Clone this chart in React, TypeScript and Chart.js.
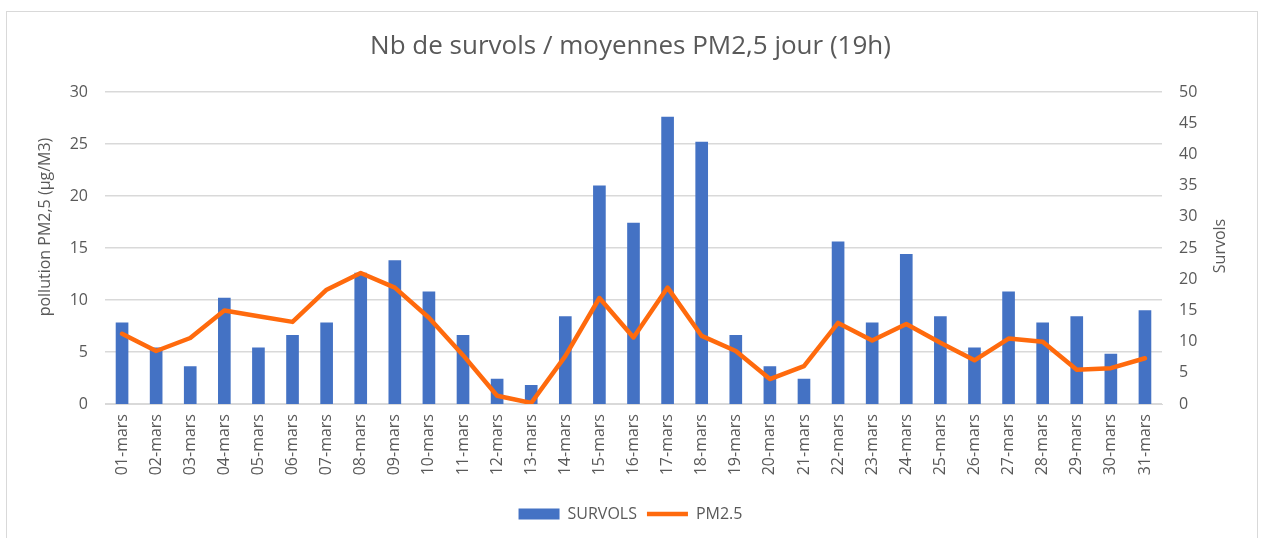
import React, { useEffect, useRef } from "react";
import { Chart, registerables } from "chart.js";

Chart.register(...registerables);

const categories: string[] = [
  "01-mars", "02-mars", "03-mars", "04-mars", "05-mars", "06-mars", "07-mars", "08-mars",
  "09-mars", "10-mars", "11-mars", "12-mars", "13-mars", "14-mars", "15-mars", "16-mars",
  "17-mars", "18-mars", "19-mars", "20-mars", "21-mars", "22-mars", "23-mars", "24-mars",
  "25-mars", "26-mars", "27-mars", "28-mars", "29-mars", "30-mars", "31-mars",
];

const survols: number[] = [
  13, 9, 6, 17, 9, 11, 13, 21, 23, 18, 11, 4, 3, 14, 35, 29,
  46, 42, 11, 6, 4, 26, 13, 24, 14, 9, 18, 13, 14, 8, 15,
];

const pm25: number[] = [
  6.75, 5.1, 6.35, 9.0, 8.45, 7.9, 11.0, 12.6, 11.2, 8.3, 4.7, 0.8, 0.1, 4.6, 10.2, 6.4,
  11.2, 6.55, 5.1, 2.4, 3.65, 7.8, 6.1, 7.7, 5.9, 4.2, 6.3, 6.0, 3.3, 3.45, 4.4,
];

const leftTicks = { min: 0, max: 30, step: 5 };
const rightTicks = { min: 0, max: 50, step: 5 };

const titleText = "Nb de survols / moyennes PM2,5 jour (19h)";
const leftAxisTitle = "pollution PM2,5 (µg/M3)";
const rightAxisTitle = "Survols";

const TEXT = "#595959";
const FONT = "'Open Sans', 'Noto Sans', sans-serif";

const axisTitles = {
  id: "axisTitles",
  afterDraw(chart: any) {
    const ctx = chart.ctx;
    ctx.save();
    ctx.fillStyle = TEXT;
    ctx.font = `16px ${FONT}`;
    ctx.textAlign = "center";
    ctx.textBaseline = "middle";
    ctx.translate(45, 227);
    ctx.rotate(-Math.PI / 2);
    ctx.fillText(leftAxisTitle, 0, 0);
    ctx.restore();
    ctx.save();
    ctx.fillStyle = TEXT;
    ctx.font = `16px ${FONT}`;
    ctx.textAlign = "center";
    ctx.textBaseline = "middle";
    ctx.translate(1220, 246);
    ctx.rotate(-Math.PI / 2);
    ctx.fillText(rightAxisTitle, 0, 0);
    ctx.restore();
  },
};

export default function App() {
  const ref = useRef<HTMLCanvasElement | null>(null);

  useEffect(() => {
    if (!ref.current) return;
    const chart = new Chart(ref.current, {
      type: "bar",
      data: {
        labels: categories,
        datasets: [
          {
            type: "line",
            label: "PM2.5",
            data: pm25,
            yAxisID: "yLeft",
            borderColor: "#FF6A0D",
            backgroundColor: "#FF6A0D",
            borderWidth: 4.5,
            pointRadius: 0,
            pointStyle: "line",
            borderCapStyle: "round",
            borderJoinStyle: "round",
            tension: 0,
          } as any,
          {
            type: "bar",
            label: "SURVOLS",
            data: survols,
            yAxisID: "yRight",
            backgroundColor: "#4472C4",
            borderWidth: 0,
            barThickness: 12,
            pointStyle: "rect",
          } as any,
        ],
      },
      plugins: [axisTitles],
      options: {
        animation: false,
        responsive: false,
        maintainAspectRatio: false,
        devicePixelRatio: 1,
        layout: { padding: { left: 0, right: 0, top: 0, bottom: 6 } },
        plugins: {
          title: {
            display: true,
            text: titleText,
            color: TEXT,
            font: { family: FONT, size: 26, weight: "normal" },
            padding: { top: 31, bottom: 30 },
          },
          legend: {
            position: "bottom",
            labels: {
              usePointStyle: true,
              pointStyleWidth: 41,
              boxHeight: 11,
              boxWidth: 41,
              color: TEXT,
              font: { family: FONT, size: 16 },
              padding: 10,
              sort: (a: any, b: any) => b.datasetIndex - a.datasetIndex,
            },
          },
          tooltip: { enabled: false },
        },
        scales: {
          x: {
            grid: { display: false, drawTicks: false },
            border: { display: true, color: "#D9D9D9" },
            ticks: {
              color: TEXT,
              font: { family: FONT, size: 16 },
              maxRotation: 90,
              minRotation: 90,
              padding: 10,
              autoSkip: false,
            },
            afterFit: (s: any) => {
              s.height = 92;
            },
          },
          yLeft: {
            type: "linear",
            position: "left",
            min: leftTicks.min,
            max: leftTicks.max,
            ticks: { stepSize: leftTicks.step, color: TEXT, font: { family: FONT, size: 16 }, padding: 17 },
            grid: { color: "#D9D9D9", lineWidth: 1.5, drawTicks: false },
            border: { display: false },
            afterFit: (s: any) => {
              s.width = 105;
            },
          },
          yRight: {
            type: "linear",
            position: "right",
            min: rightTicks.min,
            max: rightTicks.max,
            ticks: { stepSize: rightTicks.step, color: TEXT, font: { family: FONT, size: 16 }, padding: 17 },
            grid: { display: false, drawTicks: false },
            border: { display: false },
            afterFit: (s: any) => {
              s.width = 99;
            },
          },
        },
      } as any,
    });
    return () => chart.destroy();
  }, []);

  return (
    <div style={{ position: "absolute", left: 0, top: 0, width: 1261, height: 538, background: "#fff", overflow: "hidden" }}>
      <div
        style={{
          position: "absolute",
          left: 6,
          top: 11,
          width: 1252,
          height: 540,
          border: "1.5px solid #D9D9D9",
          boxSizing: "border-box",
        }}
      />
      <canvas ref={ref} width={1261} height={538} style={{ position: "absolute", left: 0, top: 0, width: 1261, height: 538 }} />
    </div>
  );
}
